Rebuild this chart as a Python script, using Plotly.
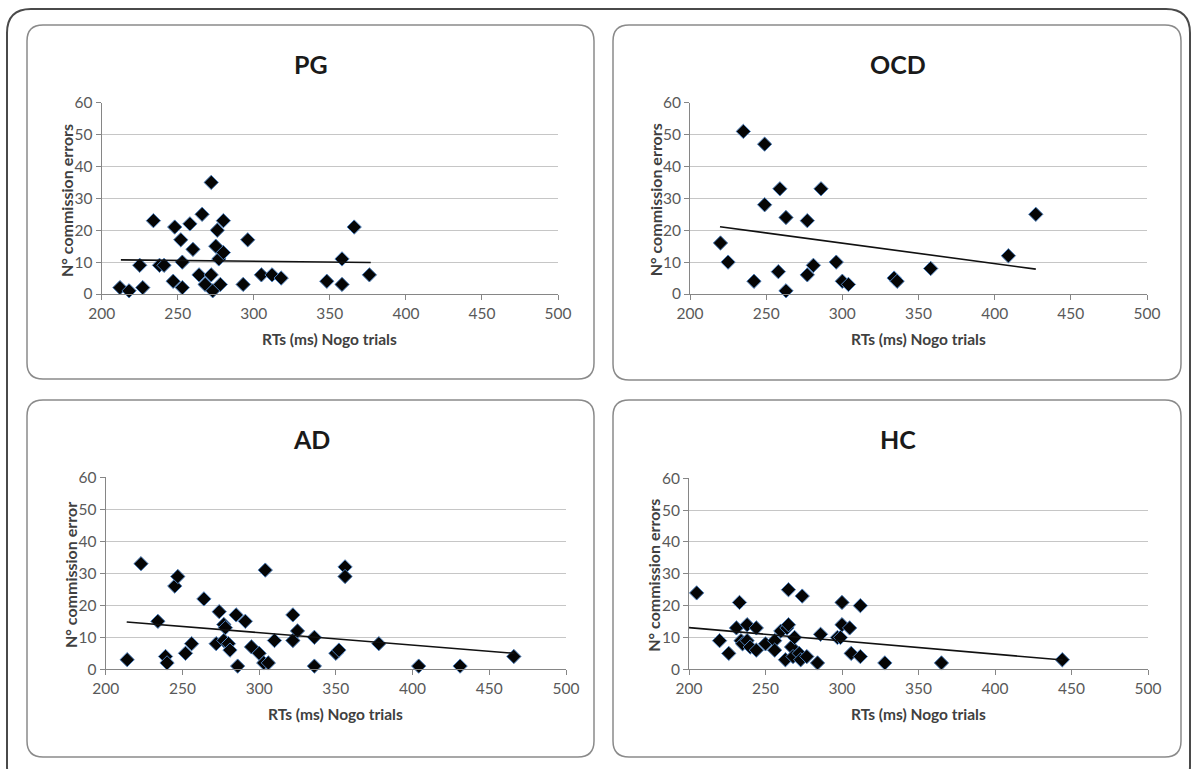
import plotly.graph_objects as go

W, H = 1195, 769

# ---------------- data ----------------
panel_titles = ["PG", "OCD", "AD", "HC"]
y_titles = ["N° commission errors", "N° commission errors", "N° commission error", "N° commission errors"]
x_title = "RTs (ms) Nogo trials"

pg_x = [212, 218, 225, 227, 234, 238, 241, 247, 248, 252, 253, 253, 258, 260, 264, 266, 268, 272, 272, 273,
        276, 275, 277, 278, 280, 280, 293, 296, 305, 312, 318, 348, 358, 358, 366, 376]
pg_y = [2, 1, 9, 2, 23, 9, 9, 4, 21, 17, 10, 2, 22, 14, 6, 25, 3, 35, 6, 1,
        20, 15, 11, 3, 23, 13, 3, 17, 6, 6, 5, 4, 11, 3, 21, 6]
pg_trend_x = [212.6, 376.9]
pg_trend_y = [10.7, 9.9]

ocd_x = [220, 225, 235, 242, 249, 249, 258, 259, 263, 263, 277, 277, 281, 286, 296, 300, 304, 334, 336, 358, 409, 427]
ocd_y = [16, 10, 51, 4, 47, 28, 7, 33, 24, 1, 6, 23, 9, 33, 10, 4, 3, 5, 4, 8, 12, 25]
ocd_trend_x = [219.7, 427.0]
ocd_trend_y = [21.1, 7.8]

ad_x = [214, 223, 234, 239, 240, 245, 247, 252, 256, 264, 272, 274, 277, 278, 277, 280, 281, 285, 286, 291,
        295, 300, 303, 304, 306, 310, 322, 322, 325, 336, 336, 350, 352, 356, 356, 378, 404, 431, 466]
ad_y = [3, 33, 15, 4, 2, 26, 29, 5, 8, 22, 8, 18, 14, 13, 9, 8, 6, 17, 1, 15,
        7, 5, 2, 31, 2, 9, 17, 9, 12, 10, 1, 5, 6, 32, 29, 8, 1, 1, 4]
ad_trend_x = [213.7, 466.3]
ad_trend_y = [14.8, 5.0]

hc_x = [205, 220, 226, 231, 233, 234, 235, 238, 238, 240, 244, 244, 250, 256, 256, 260, 264, 265, 265, 263,
        267, 268, 269, 272, 273, 274, 277, 284, 286, 297, 299, 300, 300, 305, 306, 312, 312, 328, 365, 444]
hc_y = [24, 9, 5, 13, 21, 9, 8, 14, 9, 7, 13, 6, 8, 9, 6, 12, 13, 14, 25, 3,
        7, 4, 10, 5, 3, 23, 4, 2, 11, 10, 10, 14, 21, 13, 5, 20, 4, 2, 2, 3]
hc_trend_x = [200.0, 444.5]
hc_trend_y = [13.1, 2.9]

x_range = [200, 500]
y_range = [0, 60]

series = [
    (pg_x, pg_y, pg_trend_x, pg_trend_y),
    (ocd_x, ocd_y, ocd_trend_x, ocd_trend_y),
    (ad_x, ad_y, ad_trend_x, ad_trend_y),
    (hc_x, hc_y, hc_trend_x, hc_trend_y),
]

# ---------------- layout geometry (pixels) ----------------
# plot areas: (left, right, top(60), bottom(0))
plot_px = [
    (101.7, 558.0, 102.7, 294.0),
    (690.0, 1147.0, 102.7, 294.0),
    (105.7, 566.0, 477.3, 669.3),
    (689.0, 1148.0, 478.3, 669.3),
]
panel_px = [
    (27, 25, 594, 379),
    (613, 25, 1181, 380),
    (27, 400, 594, 757),
    (613, 400, 1181, 757),
]


def X(px):
    return px / W


def Y(py):
    return 1 - py / H


def rounded(x0, y0, x1, y1, r):
    rx0, rx1 = X(x0), X(x1)
    top, bot = Y(y0), Y(y1)
    return (f"M {X(x0 + r)},{top} L {X(x1 - r)},{top} Q {rx1},{top} {rx1},{Y(y0 + r)} "
            f"L {rx1},{Y(y1 - r)} Q {rx1},{bot} {X(x1 - r)},{bot} "
            f"L {X(x0 + r)},{bot} Q {rx0},{bot} {rx0},{Y(y1 - r)} "
            f"L {rx0},{Y(y0 + r)} Q {rx0},{top} {X(x0 + r)},{top} Z")


fig = go.Figure()

FONT = "Lato, 'Open Sans', sans-serif"
axis_col = "#868686"
grid_col = "#c6c6c6"

annotations = []
shapes = []

# outer frame
shapes.append(dict(type="path", xref="paper", yref="paper", layer="below",
                   path=rounded(7, 9, 1190, 790, 24),
                   line=dict(color="#4a4a4a", width=2), fillcolor="rgba(0,0,0,0)"))

for i, (xs, ys, tx, ty) in enumerate(series):
    k = "" if i == 0 else str(i + 1)
    left, right, top, bottom = plot_px[i]
    px0, py0, px1, py1 = panel_px[i]
    shapes.append(dict(type="path", xref="paper", yref="paper", layer="below",
                       path=rounded(px0, py0, px1, py1, 16),
                       line=dict(color="#8a8a8a", width=1.5), fillcolor="white"))

    fig.add_trace(go.Scatter(
        x=xs, y=ys, mode="markers", xaxis="x" + k, yaxis="y" + k,
        marker=dict(symbol="diamond", size=11, color="#050505",
                    line=dict(color="#4f81bd", width=1)),
        cliponaxis=False, showlegend=False, hoverinfo="x+y"))
    fig.add_trace(go.Scatter(
        x=tx, y=ty, mode="lines", xaxis="x" + k, yaxis="y" + k,
        line=dict(color="#111111", width=1.6),
        cliponaxis=False, showlegend=False, hoverinfo="skip"))

    xa = dict(domain=[X(left), X(right)], range=x_range, tick0=200, dtick=50,
              showgrid=False, zeroline=False, showline=True, linecolor=axis_col, linewidth=1,
              ticks="outside", ticklen=5, tickcolor=axis_col, tickwidth=1,
              tickfont=dict(family=FONT, size=15.5, color="#595959"),
              anchor="y" + k, fixedrange=True, automargin=False)
    ya = dict(domain=[Y(bottom), Y(top)], range=y_range, tick0=0, dtick=10,
              showgrid=True, gridcolor=grid_col, gridwidth=1, zeroline=False,
              showline=True, linecolor=axis_col, linewidth=1,
              ticks="outside", ticklen=5, tickcolor=axis_col, tickwidth=1,
              tickfont=dict(family=FONT, size=15.5, color="#595959"),
              anchor="x" + k, fixedrange=True, automargin=False)
    fig.update_layout(**{"xaxis" + k: xa, "yaxis" + k: ya})

    cx = (left + right) / 2
    # panel title
    annotations.append(dict(text=f"<b>{panel_titles[i]}</b>", xref="paper", yref="paper",
                            x=X((px0 + px1) / 2 + 1), y=Y(py0 + 39), xanchor="center", yanchor="middle",
                            showarrow=False, font=dict(family=FONT, size=25, color="#1a1a1a")))
    # x title
    annotations.append(dict(text=f"<b>{x_title}</b>", xref="paper", yref="paper",
                            x=X(cx), y=Y(bottom + 45), xanchor="center", yanchor="middle",
                            showarrow=False, font=dict(family=FONT, size=15.5, color="#404040")))
    # y title
    annotations.append(dict(text=f"<b>{y_titles[i]}</b>", xref="paper", yref="paper",
                            x=X(left - 35), y=Y((top + bottom) / 2 + 2), xanchor="center", yanchor="middle",
                            textangle=-90, showarrow=False,
                            font=dict(family=FONT, size=16, color="#404040")))

fig.update_layout(
    width=W, height=H, margin=dict(l=0, r=0, t=0, b=0, pad=0, autoexpand=False),
    paper_bgcolor="white", plot_bgcolor="rgba(0,0,0,0)",
    shapes=shapes, annotations=annotations, showlegend=False,
)

fig.write_html("out.html", config={"responsive": False, "displayModeBar": False},
               post_script="document.body.style.margin='0';document.body.style.overflow='hidden';")
